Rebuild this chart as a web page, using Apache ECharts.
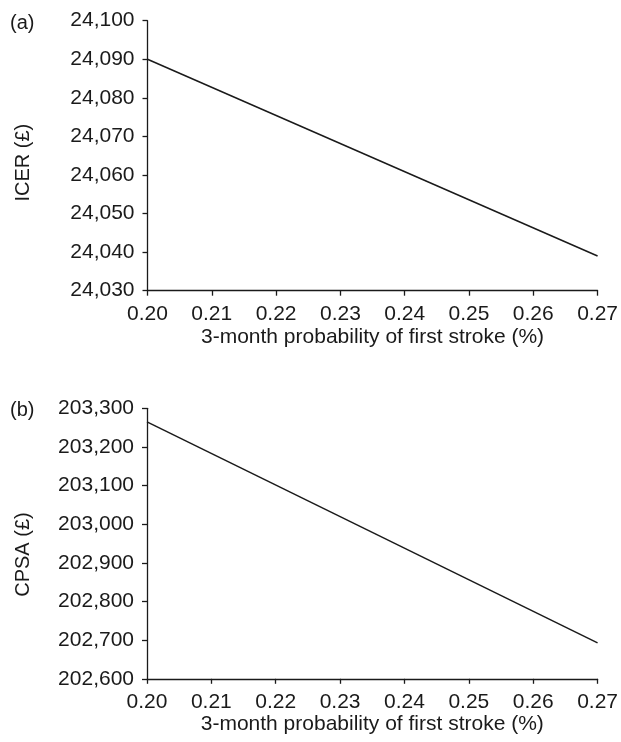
<!DOCTYPE html>
<html>
<head>
<meta charset="utf-8">
<script src="https://cdn.jsdelivr.net/npm/echarts@6/dist/echarts.min.js"></script>
<style>
  html, body { margin: 0; padding: 0; background: #fff; }
  #chart { width: 621px; height: 742px; }
</style>
</head>
<body>
<div id="chart"></div>
<script>
// 3-month probability of first stroke (%) at the two ends of the sensitivity range
const strokeProb = [0.20, 0.27];
// Panel (a): incremental cost-effectiveness ratio, £
const icerValues = [24090, 24039];
// Panel (b): CPSA, £
const cpsaValues = [203265, 202693];

const xTicks = { min: 0.20, max: 0.27, step: 0.01 };
const icerTicks = { min: 24030, max: 24100, step: 10 };
const cpsaTicks = { min: 202600, max: 203300, step: 100 };

const FONT = '"Liberation Sans", Arial, Helvetica, sans-serif';
const INK = '#1a1a1a';

function withCommas(v) {
  return String(Math.round(v)).replace(/\B(?=(\d{3})+(?!\d))/g, ',');
}

function xAxisFor(gridIndex, gap) {
  return {
    type: 'value', gridIndex,
    min: xTicks.min, max: xTicks.max, interval: xTicks.step,
    name: '3-month probability of first stroke (%)',
    nameLocation: 'middle', nameGap: gap,
    nameTextStyle: { fontFamily: FONT, fontSize: 21, color: INK },
    axisLine: { show: true, onZero: false, lineStyle: { color: INK, width: 1.3 } },
    axisTick: { show: true, inside: false, length: 5, lineStyle: { color: INK, width: 1.3 } },
    axisLabel: { fontFamily: FONT, fontSize: 21, color: INK, margin: 13,
                 formatter: v => v.toFixed(2) },
    splitLine: { show: false }
  };
}

function yAxisFor(gridIndex, ticks, title, shift) {
  return {
    type: 'value', gridIndex,
    min: ticks.min, max: ticks.max, interval: ticks.step,
    name: title, nameLocation: 'middle', nameGap: 114,
    nameTextStyle: { fontFamily: FONT, fontSize: 20, color: INK, padding: [0, shift, 0, 0] },
    axisLine: { show: true, onZero: false, lineStyle: { color: INK, width: 1.3 } },
    axisTick: { show: true, inside: false, length: 5, lineStyle: { color: INK, width: 1.3 } },
    axisLabel: { fontFamily: FONT, fontSize: 21, color: INK, margin: 13,
                 formatter: withCommas },
    splitLine: { show: false }
  };
}

const chart = echarts.init(document.getElementById('chart'), null, { renderer: 'canvas' });
chart.setOption({
  animation: false,
  backgroundColor: '#ffffff',
  grid: [
    { left: 147.5, right: 22, top: 20.7, height: 270 },
    { left: 147, right: 21, top: 408.3, height: 270.5 }
  ],
  xAxis: [xAxisFor(0, 36), xAxisFor(1, 33)],
  yAxis: [
    yAxisFor(0, icerTicks, 'ICER (£)', 14),
    yAxisFor(1, cpsaTicks, 'CPSA (£)', 22)
  ],
  series: [
    {
      type: 'line', xAxisIndex: 0, yAxisIndex: 0,
      data: strokeProb.map((x, i) => [x, icerValues[i]]),
      symbol: 'none', lineStyle: { color: INK, width: 1.5 }
    },
    {
      type: 'line', xAxisIndex: 1, yAxisIndex: 1,
      data: strokeProb.map((x, i) => [x, cpsaValues[i]]),
      symbol: 'none', lineStyle: { color: INK, width: 1.5 }
    }
  ],
  graphic: [
    { type: 'text', left: 10, top: 13,
      style: { text: '(a)', fontFamily: FONT, fontSize: 20, fill: INK } },
    { type: 'text', left: 10, top: 400,
      style: { text: '(b)', fontFamily: FONT, fontSize: 20, fill: INK } }
  ]
});
</script>
</body>
</html>
